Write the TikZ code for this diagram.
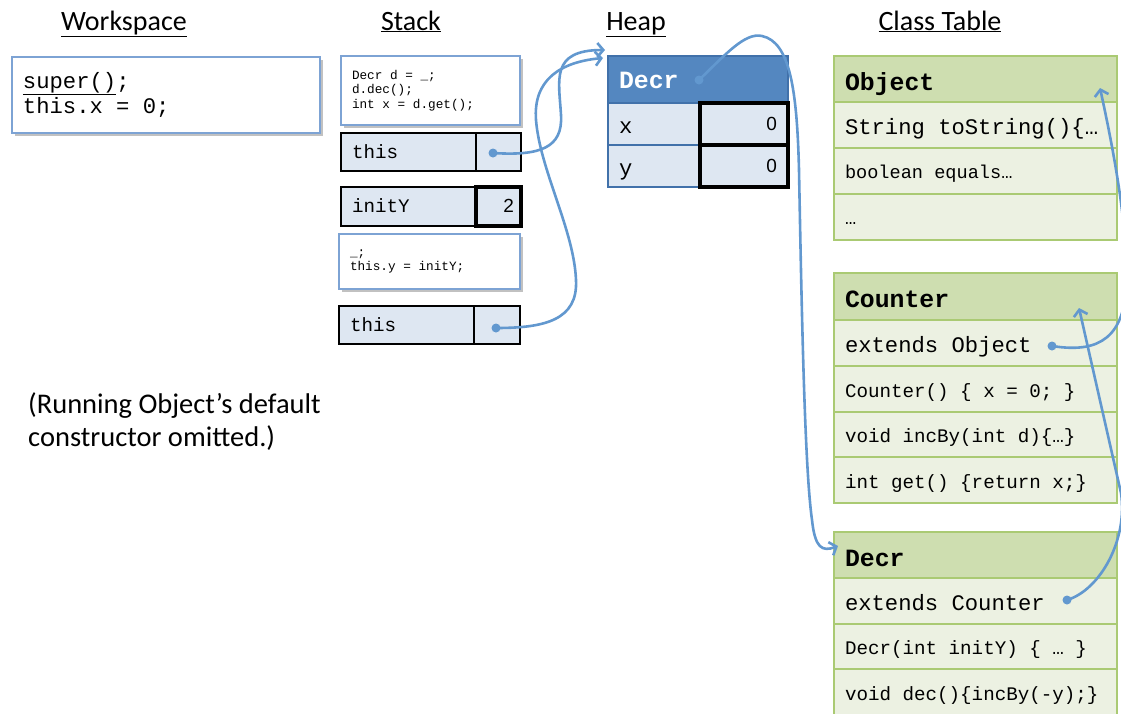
\documentclass[tikz,border=0pt]{standalone}
\usepackage{fontspec}
\setmainfont{Carlito}
\newfontfamily\codefont{Liberation Mono}
\newfontfamily\numfont{Liberation Sans}
\usetikzlibrary{arrows.meta,shadows}
\definecolor{arrowblue}{RGB}{98,152,207}
\definecolor{headblue}{RGB}{84,135,192}
\definecolor{heapborder}{RGB}{65,113,170}
\definecolor{cellblue}{RGB}{222,231,242}
\definecolor{boxborder}{RGB}{125,163,212}
\definecolor{greenhead}{RGB}{206,222,176}
\definecolor{greenrow}{RGB}{236,241,226}
\definecolor{greenborder}{RGB}{170,202,115}
\newcommand\ms{\char"00A0\relax}
\newcommand\bigcode{\codefont\fontsize{22.2}{25.5}\selectfont}
\newcommand\midcode{\codefont\fontsize{19.2}{22}\selectfont}
\newcommand\eqcode{\codefont\fontsize{18.6}{22}\selectfont}
\newcommand\smallcode{\codefont\fontsize{12.7}{14.5}\selectfont}
\newcommand\headcode{\codefont\bfseries\fontsize{24.8}{28}\selectfont}
\newcommand\numtext{\numfont\fontsize{19}{22}\selectfont}
\begin{document}
\begin{tikzpicture}[x=1pt,y=-1pt,
  titletext/.style={font=\fontsize{28}{33}\selectfont, anchor=base, inner sep=0pt},
  notetext/.style={font=\fontsize{28.5}{33}\selectfont, anchor=north west, align=left, inner sep=0pt},
  cellbase/.style={anchor=north west, inner ysep=0pt, inner xsep=11pt, outer sep=0pt, align=left},
  codebox/.style={cellbase, draw=boxborder, line width=1.2pt, fill=white,
     drop shadow={shadow xshift=2.5pt, shadow yshift=-3pt, opacity=0.35, fill=black!70}},
  scell/.style={cellbase, draw=black, line width=1.2pt, fill=cellblue, font=\midcode, text height=12.5pt, text depth=0pt},
  tcell/.style={cellbase, draw=black, line width=3.5pt, fill=cellblue, align=right, text height=12pt, text depth=0pt},
  hhead/.style={cellbase, draw=heapborder, line width=1.2pt, fill=headblue, text=white, font=\headcode, text height=18pt, text depth=0pt},
  hcell/.style={cellbase, draw=heapborder, line width=1.2pt, fill=cellblue, font=\bigcode, text height=18pt, text depth=0pt},
  ghead/.style={cellbase, draw=greenborder, line width=1.2pt, fill=greenhead, font=\headcode, minimum width=283, text width=261, text height=22pt, text depth=0pt},
  gcell/.style={cellbase, draw=greenborder, line width=1.2pt, fill=greenrow, minimum width=283, text width=261, text depth=0pt},
  gbig/.style={gcell, font=\bigcode, text height=19pt},
  gmid/.style={gcell, font=\midcode, text height=16pt},
  geq/.style={gcell, font=\eqcode, text height=14pt},
  conn/.style={draw=arrowblue, line width=2.6pt, -{Straight Barb[length=6pt,width=14pt]}},
  dotc/.style={fill=arrowblue}
]
\useasboundingbox (0,0) rectangle (1121,713);
\clip (0,0) rectangle (1121,713);

% titles
\node[titletext] (tws) at (124,30) {\underline{Workspace}};
\node[titletext] (tst) at (411,30) {\underline{Stack}};
\node[titletext] (thp) at (636,30) {\underline{Heap}};
\node[titletext] (tct) at (940,30) {\underline{Class Table}};

% workspace
\node[codebox, minimum width=308, minimum height=76, text width=286, font=\bigcode] (ws) at (12,57)
  {\underline{super()};\\this.x\ms=\ms0;};

% note
\node[notetext] (nt) at (28,392) {(Running Object’s default\\constructor omitted.)};

% stack
\node[codebox, minimum width=179, minimum height=69, text width=157, font=\smallcode] (sc1) at (341,56)
  {Decr\ms d\ms=\ms\_;\\d.dec();\\int\ms x\ms=\ms d.get();};
\node[scell, minimum width=135, minimum height=38, text width=113] (s1l) at (341,133) {this};
\node[scell, minimum width=45, minimum height=38, text width=23] (s1r) at (476,133) {};
\node[scell, minimum width=135, minimum height=39, text width=113] (s2l) at (341,187) {initY};
\node[tcell, minimum width=45, minimum height=39, text width=31, inner xsep=7pt, font=\numtext] (s2r) at (476,187) {2};
\node[codebox, minimum width=181, minimum height=55, text width=159, font=\smallcode] (sc2) at (339,234)
  {\_;\\this.y\ms=\ms initY;};
\node[scell, minimum width=135, minimum height=38, text width=113] (s3l) at (339,306) {this};
\node[scell, minimum width=46, minimum height=38, text width=24] (s3r) at (474,306) {};

% heap
\node[hhead, minimum width=180, minimum height=47, text width=158] (hh) at (608,56) {Decr};
\node[hcell, minimum width=92, minimum height=42, text width=70] (hxl) at (608,103) {x};
\node[hcell, minimum width=92, minimum height=42, text width=70] (hyl) at (608,145) {y};
\node[tcell, minimum width=88, minimum height=42, text width=66, font=\numtext] (hxr) at (700,103) {0};
\node[tcell, minimum width=88, minimum height=42, text width=66, font=\numtext] (hyr) at (700,145) {0};

% class table: Object
\node[ghead, minimum height=46] (oh) at (834,56) {Object};
\node[gbig, minimum height=46] (o1) at (834,102) {String\ms toString()\{…};
\node[geq, minimum height=46] (o2) at (834,148) {boolean\ms equals…};
\node[geq, minimum height=46] (o3) at (834,194) {…};

% Counter
\node[ghead, minimum height=47] (ch) at (834,273) {Counter};
\node[gbig, minimum height=46] (c1) at (834,320) {extends\ms Object};
\node[gmid, minimum height=46] (c2) at (834,366) {Counter()\ms\{\ms x\ms=\ms0;\ms\}};
\node[gmid, minimum height=45] (c3) at (834,412) {void\ms incBy(int\ms d)\{…\}};
\node[gmid, minimum height=46] (c4) at (834,457) {int\ms get()\ms\{return\ms x;\}};

% Decr
\node[ghead, minimum height=46] (dh) at (834,532) {Decr};
\node[gbig, minimum height=46] (d1r) at (834,578) {extends\ms Counter};
\node[gmid, minimum height=45] (d2r) at (834,624) {Decr(int\ms initY)\ms\{\ms…\ms\}};
\node[gmid, minimum height=47] (d3r) at (834,669) {void\ms dec()\{incBy(-y);\}};

% connector ends
\coordinate (pa) at (493,153);
\coordinate (pb) at (496,328);
\coordinate (pc) at (699,80);
\coordinate (pd) at (1052,346);
\coordinate (pe) at (1067,600);
\coordinate (ta) at (605,50);
\coordinate (tb) at (603,58);
\coordinate (tc) at (838,546);
\coordinate (td) at (1100,88);
\coordinate (te) at (1079,308);

% connectors
\draw[conn] (pa) .. controls (540,156) and (563,148) .. (561,115) .. controls (559,80) and (550,50) .. (ta);
\draw[conn] (pb) .. controls (545,328) and (578,320) .. (576,280) .. controls (574,230) and (540,170) .. (536,120) .. controls (533,80) and (560,62) .. (tb);
\draw[conn] (pc) .. controls (725,55) and (745,32) .. (762,36) .. controls (790,42) and (797,90) .. (799,170) .. controls (802,330) and (805,470) .. (812,520) .. controls (815,548) and (822,552) .. (tc);
\draw[conn] (pd) .. controls (1090,352) and (1122,345) .. (1126,290) .. controls (1128,240) and (1120,180) .. (td);
\draw[conn] (pe) .. controls (1100,590) and (1128,540) .. (1121,493) -- (te);
\fill[dotc] (pa) circle (4.5pt);
\fill[dotc] (pb) circle (4.5pt);
\fill[dotc] (pc) circle (4.5pt);
\fill[dotc] (pd) circle (4.5pt);
\fill[dotc] (pe) circle (4.5pt);
\end{tikzpicture}
\end{document}
